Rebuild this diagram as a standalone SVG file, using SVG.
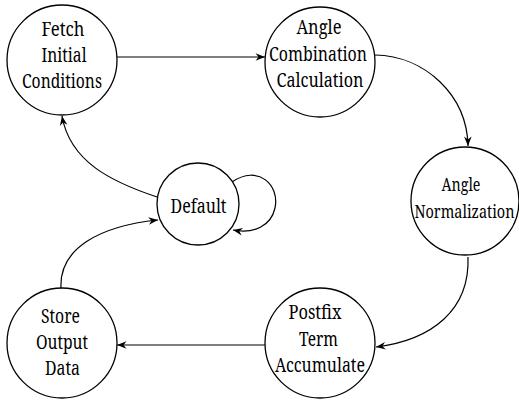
<svg xmlns="http://www.w3.org/2000/svg" width="519" height="401" viewBox="0 0 519 401">
  <style>
    .state { fill: #ffffff; stroke: #000000; stroke-width: 1.3; }
    .label { font-family: 'Noto Serif', 'DejaVu Serif', 'Liberation Serif', serif; font-size: 19.5px; fill: #000000; text-anchor: middle; }
    .small { font-size: 18.5px; }
    .edge { fill: none; stroke: #000000; stroke-width: 1.2; marker-end: url(#arrow); }
  </style>
  <defs>
    <marker id="arrow" markerUnits="userSpaceOnUse" markerWidth="12" markerHeight="10" viewBox="-10 -5 12 10" refX="0" refY="0" orient="auto">
      <path d="M0,0 L-9.5,-3.8 L-6.5,0 L-9.5,3.8 Z" fill="#000000"/>
    </marker>
  </defs>
  <rect width="519" height="401" fill="#ffffff"/>

  <!-- transitions between states -->
  <g id="connectors">
    <path class="edge" d="M117,57 L265,57"/>
    <path class="edge" d="M375,55 C425,56 467,95 468,146"/>
    <path class="edge" d="M468,257 C470,310 432,340 376,347"/>
    <path class="edge" d="M265,345 L117,345"/>
    <path class="edge" d="M61,288 C59,248 100,226 158,220"/>
    <path class="edge" d="M157,197 C112,182 70,162 62,116"/>
    <path class="edge" d="M232,182 C258,164 280,185 275,208 C271,226 254,234 233,230"/>
  </g>

  <g id="fetch-initial-conditions">
    <circle class="state" cx="62" cy="60" r="55"/>
    <text class="label" x="63" y="36" textLength="43" lengthAdjust="spacingAndGlyphs">Fetch</text>
    <text class="label" x="64" y="62" textLength="45" lengthAdjust="spacingAndGlyphs">Initial</text>
    <text class="label" x="62" y="88" textLength="80" lengthAdjust="spacingAndGlyphs">Conditions</text>
  </g>

  <g id="angle-combination-calculation">
    <circle class="state" cx="320" cy="62" r="55"/>
    <text class="label" x="319" y="34" textLength="45" lengthAdjust="spacingAndGlyphs">Angle</text>
    <text class="label" x="318" y="61" textLength="98" lengthAdjust="spacingAndGlyphs">Combination</text>
    <text class="label" x="320" y="87" textLength="87" lengthAdjust="spacingAndGlyphs">Calculation</text>
  </g>

  <g id="angle-normalization">
    <circle class="state" cx="465" cy="201" r="54"/>
    <text class="label small" x="461" y="191" textLength="39" lengthAdjust="spacingAndGlyphs">Angle</text>
    <text class="label small" x="464.5" y="218" textLength="100" lengthAdjust="spacingAndGlyphs">Normalization</text>
  </g>

  <g id="default">
    <circle class="state" cx="198" cy="204" r="41"/>
    <text class="label" x="198.5" y="213" textLength="56" lengthAdjust="spacingAndGlyphs">Default</text>
  </g>

  <g id="store-output-data">
    <circle class="state" cx="62" cy="343" r="55"/>
    <text class="label" x="60.5" y="323" textLength="39" lengthAdjust="spacingAndGlyphs">Store</text>
    <text class="label" x="62" y="349" textLength="52" lengthAdjust="spacingAndGlyphs">Output</text>
    <text class="label" x="62.5" y="375" textLength="35" lengthAdjust="spacingAndGlyphs">Data</text>
  </g>

  <g id="postfix-term-accumulate">
    <circle class="state" cx="320" cy="343" r="55"/>
    <text class="label" x="315" y="319" textLength="53" lengthAdjust="spacingAndGlyphs">Postfix</text>
    <text class="label" x="318.5" y="346" textLength="39" lengthAdjust="spacingAndGlyphs">Term</text>
    <text class="label" x="320" y="372" textLength="90" lengthAdjust="spacingAndGlyphs">Accumulate</text>
  </g>
</svg>
